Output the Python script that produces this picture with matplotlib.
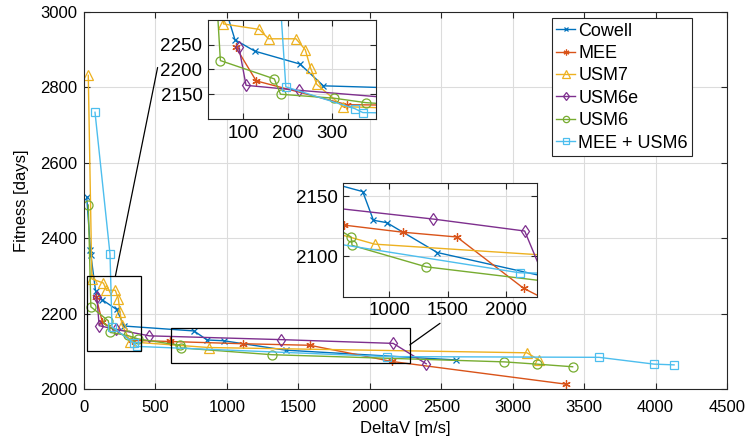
import numpy as np
import matplotlib
matplotlib.use("Agg")
import matplotlib.pyplot as plt
from matplotlib.patches import Rectangle, ConnectionPatch

plt.rcParams.update({
    "font.family": ["Liberation Sans", "DejaVu Sans"],
    "xtick.direction": "in",
    "ytick.direction": "in",
    "axes.edgecolor": "#262626",
    "axes.linewidth": 0.8,
})

# ── Data (DeltaV [m/s], Fitness [days]) ─────────────────────────────────────
cowell_x = [19, 45, 48, 81, 126, 228, 281, 770, 862, 977, 1411, 2607]
cowell_y = [2510, 2370, 2356, 2260, 2237, 2211, 2167, 2154, 2130, 2128, 2103, 2077]

mee_x = [83, 129, 334, 605, 1115, 1580, 2155, 3370]
mee_y = [2245, 2177, 2129, 2126, 2120, 2116, 2073, 2013]

usm7_x = [30, 55, 136, 157, 219, 240, 252, 266, 325, 873, 3100, 3185]
usm7_y = [2832, 2292, 2281, 2262, 2262, 2240, 2203, 2170, 2125, 2110, 2096, 2077]

usm6e_x = [90, 106, 225, 458, 1378, 2164, 2395]
usm6e_y = [2245, 2168, 2158, 2141, 2131, 2121, 2067]

usm6_x = [30, 48, 170, 184, 305, 377, 670, 678, 1315, 2939, 3168, 3420]
usm6_y = [2488, 2218, 2181, 2150, 2142, 2133, 2116, 2109, 2091, 2072, 2066, 2059]

mix_x = [77, 182, 196, 352, 370, 2121, 3605, 3990, 4130]
mix_y = [2734, 2358, 2165, 2121, 2113, 2086, 2084, 2066, 2064]

# (label, x, y, color, marker, markersize)
SERIES = [
    ("Cowell",     cowell_x, cowell_y, "#0072BD", "x",       5),
    ("MEE",        mee_x,    mee_y,    "#D95319", (6, 2, 0), 6),
    ("USM7",       usm7_x,   usm7_y,   "#EDB120", "^",       7.5),
    ("USM6e",      usm6e_x,  usm6e_y,  "#7E2F8E", "d",       6.5),
    ("USM6",       usm6_x,   usm6_y,   "#77AC30", "o",       6.5),
    ("MEE + USM6", mix_x,    mix_y,    "#4DBEEE", "s",       6),
]

ZOOM1 = (20, 400, 2100, 2300)
ZOOM2 = (600, 2270, 2066, 2161)
RECT2 = (607, 2280, 2068, 2163)


def draw_series(ax):
    for name, x, y, color, mk, ms in SERIES:
        ax.plot(x, y, color=color, marker=mk, markersize=ms,
                markerfacecolor="none", markeredgecolor=color,
                markeredgewidth=0.9, linewidth=1.0, label=name)


def style_axes(ax, fontsize, xpad=4, ypad=4):
    ax.grid(True, color="#dcdcdc", linewidth=0.8)
    ax.set_axisbelow(True)
    ax.tick_params(top=True, right=True, labelsize=fontsize,
                   length=4, width=0.8, colors="#262626")
    ax.tick_params(axis="x", pad=xpad)
    ax.tick_params(axis="y", pad=ypad)
    for lab in ax.get_xticklabels() + ax.get_yticklabels():
        lab.set_color("black")


fig = plt.figure(figsize=(7.52, 4.46), dpi=100)
ax = fig.add_axes([0.1117, 0.1278, 0.855, 0.8453])
draw_series(ax)
ax.set_xlim(0, 4500)
ax.set_ylim(2000, 3000)
ax.set_xticks(np.arange(0, 4501, 500))
ax.set_yticks(np.arange(2000, 3001, 200))
style_axes(ax, 12, xpad=8, ypad=5)
ax.set_xlabel("DeltaV [m/s]", fontsize=12, labelpad=4)
ax.set_ylabel("Fitness [days]", fontsize=12, labelpad=8)

# zoom rectangles
ax.add_patch(Rectangle((ZOOM1[0], ZOOM1[2]), ZOOM1[1] - ZOOM1[0], ZOOM1[3] - ZOOM1[2],
                       fill=False, edgecolor="black", linewidth=0.9, zorder=5))
ax.add_patch(Rectangle((RECT2[0], RECT2[2]), RECT2[1] - RECT2[0], RECT2[3] - RECT2[2],
                       fill=False, edgecolor="black", linewidth=0.9, zorder=5))

leg = ax.legend(loc="upper left", bbox_to_anchor=(0.734, 0.9596),
                bbox_transform=fig.transFigure, fontsize=13, frameon=True,
                fancybox=False, edgecolor="#262626", framealpha=1,
                handlelength=1.0, handletextpad=0.2, borderpad=0.25,
                labelspacing=0.3, borderaxespad=0, markerscale=0.7)
leg.get_frame().set_linewidth(0.8)
leg.set_zorder(10)

# inset 1
ax1 = fig.add_axes([0.2766, 0.7332, 0.2234, 0.222])
draw_series(ax1)
ax1.set_xlim(ZOOM1[0], ZOOM1[1])
ax1.set_ylim(ZOOM1[2], ZOOM1[3])
ax1.set_xticks([100, 200, 300])
ax1.set_yticks([2150, 2200, 2250])
style_axes(ax1, 13.5)

# inset 2
ax2 = fig.add_axes([0.4561, 0.3348, 0.258, 0.2543])
draw_series(ax2)
ax2.set_xlim(ZOOM2[0], ZOOM2[1])
ax2.set_ylim(ZOOM2[2], ZOOM2[3])
ax2.set_xticks([1000, 1500, 2000])
ax2.set_yticks([2100, 2150])
style_axes(ax2, 13.5)

# connector lines
con1 = ConnectionPatch(xyA=(220, 2300), coordsA=ax.transData,
                       xyB=(-0.30, 0.52), coordsB=ax1.transAxes,
                       color="black", linewidth=0.9)
fig.add_artist(con1)
con2 = ConnectionPatch(xyA=(RECT2[1], 2117), coordsA=ax.transData,
                       xyB=(0.50, -0.235), coordsB=ax2.transAxes,
                       color="black", linewidth=0.9)
fig.add_artist(con2)

fig.savefig("out.png", dpi=100)
